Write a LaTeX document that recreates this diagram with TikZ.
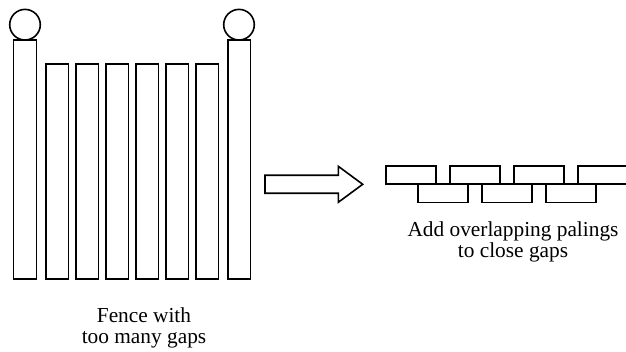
\documentclass[tikz,border=0pt]{standalone}
\usepackage{fontspec}
\setmainfont{Liberation Serif}
\tikzset{every picture/.style={line width=1.2pt}}
\tikzset{
	caption/.style={font=\fontsize{16}{16}\selectfont, align=center}}

\begin{document}
\begin{tikzpicture}[x=0.75pt,y=0.75pt,yscale=-1,xscale=1]
	\useasboundingbox (0,0) rectangle (626,352);
	\clip (0,0) rectangle (626,352);

	%Shape: Circle
	\draw   (25,24.7) circle (15.3) ;
	%Shape: Circle
	\draw   (239,24.7) circle (15.3) ;
	%Shape: Rectangle (left post)
	\draw   (13.5,40) rectangle (36.5,279) ;
	%Shape: Rectangle (right post)
	\draw   (227.7,40) rectangle (250.5,279) ;

	%Shape: Rectangle (palings)
	\draw   (45.7,64) rectangle (68.4,279) ;
	\draw   (75.7,64) rectangle (98.4,279) ;
	\draw   (105.7,64) rectangle (128.4,279) ;
	\draw   (135.7,64) rectangle (158.4,279) ;
	\draw   (165.7,64) rectangle (188.4,279) ;
	\draw   (195.7,64) rectangle (218.4,279) ;

	%Shape: Right Arrow
	\draw   (265,175.3) -- (338.3,175.3) -- (338.3,166.3) -- (362.7,184.3) -- (338.3,202.3) -- (338.3,193.3) -- (265,193.3) -- cycle ;

	%Shape: Rectangle (top row)
	\draw   (386,166) rectangle (436,184) ;
	\draw   (450,166) rectangle (500,184) ;
	\draw   (514,166) rectangle (564,184) ;
	\draw   (578,166) rectangle (628,184) ;
	%Shape: Rectangle (bottom row)
	\draw   (418,184) rectangle (468,202.5) ;
	\draw   (482,184) rectangle (532,202.5) ;
	\draw   (546,184) rectangle (596,202.5) ;

	% Text Node
	\node[caption] (fence) at (144,328) {Fence with\\too many gaps};
	% Text Node
	\node[caption] (overlap) at (513,242) {Add overlapping palings\\to close gaps};

\end{tikzpicture}
\end{document}
